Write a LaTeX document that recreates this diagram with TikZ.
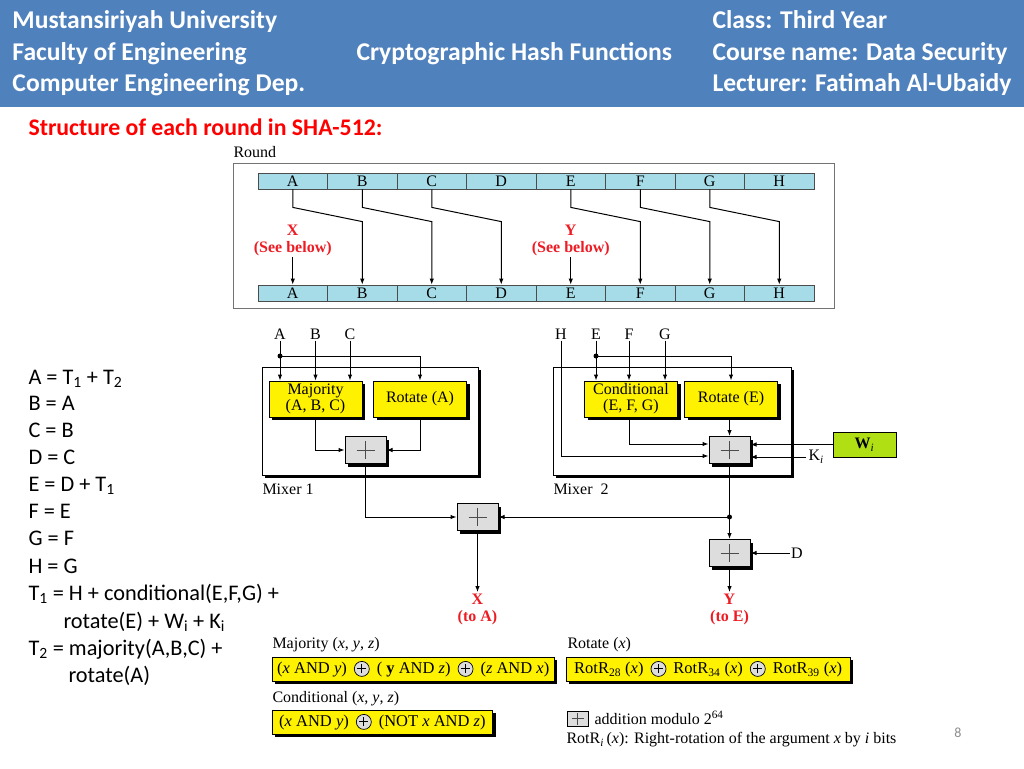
\documentclass[tikz,border=0pt]{standalone}
\usepackage{fontspec}
\setmainfont{Liberation Serif}
\newfontfamily\slidefont{Carlito}
\usepackage{tikz}
\usetikzlibrary{arrows.meta,shadows,calc}

\definecolor{headblue}{RGB}{79,129,189}
\definecolor{regblue}{RGB}{166,220,232}
\definecolor{wgreen}{RGB}{176,224,20}
\definecolor{addgray}{RGB}{221,221,221}
\definecolor{outred}{RGB}{237,28,36}
\definecolor{pagegray}{RGB}{140,140,140}

\tikzset{
  blackshadow/.style={drop shadow={shadow xshift=3pt, shadow yshift=-3pt, fill=black, opacity=1}},
  plusmark/.style={path picture={\draw[line width=0.8pt, black!70]
      (path picture bounding box.center) +(-#1,0) -- +(#1,0)
      (path picture bounding box.center) +(0,-#1) -- +(0,#1);}},
  cplusnode/.style={circle, draw, fill=addgray, line width=0.7pt, minimum size=15pt, inner sep=0pt,
    path picture={\draw[line width=1.1pt]
      (path picture bounding box.center) +(-4.5pt,0) -- +(4.5pt,0)
      (path picture bounding box.center) +(0,-4.5pt) -- +(0,4.5pt);}}
}
\newcommand{\cplus}{\hspace{3pt}\tikz[baseline={(0pt,-4.5pt)}]\node[cplusnode]{};\hspace{3pt}}

\begin{document}
\begin{tikzpicture}[x=1pt, y=-1pt, line width=1pt, >={Latex[length=6pt,width=4.5pt]},
    lbl/.style={inner sep=1pt, font=\fontsize{16}{18}\selectfont},
    redlbl/.style={inner sep=1pt, align=center, text=outred, font=\fontsize{16}{17}\selectfont\bfseries},
    reg/.style={draw=black!70, fill=regblue, line width=0.8pt, minimum width=69.5pt, minimum height=16pt,
      inner sep=0pt, font=\fontsize{16}{16}\selectfont},
    func/.style={draw, fill=yellow, minimum width=93pt, minimum height=36pt, inner sep=0pt, align=center,
      font=\fontsize{16}{16}\selectfont, blackshadow},
    adder/.style={draw, fill=addgray, minimum width=41pt, minimum height=27pt, inner sep=0pt, blackshadow, plusmark=9pt},
    mixer/.style={draw, fill=white, blackshadow},
    formula/.style={draw, fill=yellow, minimum height=24pt, inner xsep=5pt, anchor=west,
      font=\fontsize{16.5}{16.5}\selectfont, blackshadow},
    flbl/.style={inner sep=0pt, anchor=west, font=\fontsize{16}{16}\selectfont},
    slide/.style={inner sep=0pt, anchor=base west, font=\slidefont\fontsize{22.3}{26}\selectfont},
    head/.style={inner sep=0pt, anchor=base west, text=white, font=\slidefont\bfseries\fontsize{25.6}{30}\selectfont},
    dot/.style={circle, fill, inner sep=0pt, minimum size=5pt}
]
\useasboundingbox (0,0) rectangle (1024,768);

% slide header
\fill[headblue] (0,0) rectangle (1024,107);
\node[head] (uni) at (12,29) {Mustansiriyah University};
\node[head] (fac) at (12,60) {Faculty of Engineering};
\node[head] (dep) at (12,91) {Computer Engineering Dep.};
\node[head] (topic) at (356,60) {Cryptographic Hash Functions};
\node[head] (cls) at (712,29) {Class: Third Year};
\node[head] (crs) at (712,60) {Course name: Data Security};
\node[head] (lect) at (712,91) {Lecturer: Fatimah Al-Ubaidy};
\node[slide, text=red, font=\slidefont\bfseries\fontsize{23.8}{26}\selectfont] (title) at (28,135)
  {Structure of each round in SHA-512:};

% update equations
\node[slide] (eqA) at (28,384) {A = T\textsubscript{1} + T\textsubscript{2}};
\node[slide] (eqB) at (28,410.5) {B = A};
\node[slide] (eqC) at (28,437) {C = B};
\node[slide] (eqD) at (28,464.5) {D = C};
\node[slide] (eqE) at (28,491.5) {E = D + T\textsubscript{1}};
\node[slide] (eqF) at (28,518.5) {F = E};
\node[slide] (eqG) at (28,545.5) {G = F};
\node[slide] (eqH) at (28,573) {H = G};
\node[slide] (eqT1) at (28,600) {T\textsubscript{1} = H + conditional(E,F,G) +};
\node[slide] (eqT1b) at (63,628) {rotate(E) + W\textsubscript{i} + K\textsubscript{i}};
\node[slide] (eqT2) at (28,655) {T\textsubscript{2} = majority(A,B,C) +};
\node[slide] (eqT2b) at (68,682) {rotate(A)};

% round
\node[lbl, anchor=west] (roundlbl) at (232,152) {Round};
\node[draw=black!55, minimum width=601pt, minimum height=145pt, inner sep=0pt] (roundbox) at (533.5,235.5) {};
\foreach \l [count=\i] in {A,B,C,D,E,F,G,H} {
  \node[reg] (top\l) at (223.25+69.5*\i,181) {\l};
  \node[reg] (bot\l) at (223.25+69.5*\i,293) {\l};
}
\foreach \s/\t in {A/B,B/C,C/D,E/F,F/G,G/H}
  \draw[->] (top\s.south) -- ++(0,18) -- ($(bot\t.north)+(0,-63)$) -- (bot\t.north);
\node[redlbl] (seeX) at ($(topA)+(0,59)$) {X\\(See below)};
\node[redlbl] (seeY) at ($(topE)+(0,59)$) {Y\\(See below)};
\draw[->] (seeX) -- (botA.north);
\draw[->] (seeY) -- (botE.north);

% mixer 1
\node[mixer, minimum width=216pt, minimum height=108pt] (mix1) at (370,421) {};
\node[lbl, anchor=west] (mix1lbl) at (261,489) {Mixer 1};
\node[func] (maj) at (315.5,399) {Majority\\(A, B, C)};
\node[func] (rotA) at (420,399) {Rotate (A)};
\node[adder] (add1) at (365.5,450) {};
\node[lbl] (inA) at (280,334) {A};
\node[lbl] (inB) at (315.5,334) {B};
\node[lbl] (inC) at (350,334) {C};
\node[dot] (dotA) at (280,356) {};
\draw[->] (inA) -- (inA |- maj.north);
\draw[->] (inB) -- (maj.north);
\draw[->] (inC) -- (inC |- maj.north);
\draw[->] (dotA.center) -| (rotA.north);
\draw[->] (maj.south) |- (add1.west);
\draw[->] (rotA.south) |- (add1.east);

% mixer 2
\node[mixer, minimum width=238pt, minimum height=108pt] (mix2) at (672,421) {};
\node[lbl, anchor=west] (mix2lbl) at (552,489) {Mixer\ \ 2};
\node[func] (cond) at (631,399) {Conditional\\(E, F, G)};
\node[func] (rotE) at (731,399) {Rotate (E)};
\node[adder] (add2) at (729.5,450) {};
\node[lbl] (inH) at (561,334) {H};
\node[lbl] (inE) at (596,334) {E};
\node[lbl] (inF) at (629,334) {F};
\node[lbl] (inG) at (665,334) {G};
\node[dot] (dotE) at (596,356) {};
\draw[->] (inE) -- (inE |- cond.north);
\draw[->] (inF) -- (inF |- cond.north);
\draw[->] (inG) -- (inG |- cond.north);
\draw[->] (dotE.center) -| (rotE.north);
\draw[->] (cond.south -| inF) |- ($(add2.west)+(0,-6)$);
\draw[->] (add2.north |- rotE.south) -- (add2.north);
\draw[->] (inH) |- ($(add2.west)+(0,6)$);
\node[draw, fill=wgreen, minimum width=63pt, minimum height=25pt, inner sep=0pt,
  font=\fontsize{16}{16}\selectfont] (wi) at (864.5,444.5) {\textbf{W}\textsubscript{\textit{i}}};
\draw[->] (wi.west) -- (wi.west -| add2.east);
\node[lbl, anchor=west, inner sep=2pt] (ki) at (806,457) {K\textsubscript{\textit{i}}};
\draw[->] (ki.west) -- (ki.west -| add2.east);

% final adders
\node[adder] (addX) at (477.5,517) {};
\node[adder] (addY) at (729.5,553) {};
\node[dot] (dotY) at (729.5,517) {};
\draw[->] (add1.south) |- (addX.west);
\draw (add2.south) -- (dotY.center);
\draw[->] (dotY.center) -- (addX.east);
\draw[->] (dotY.center) -- (addY.north);
\node[lbl] (inD) at (797,553) {D};
\draw[->] (inD) -- (addY.east);
\node[redlbl] (outX) at (477.5,609) {X\\(to A)};
\node[redlbl] (outY) at (729.5,609) {Y\\(to E)};
\draw[->] (addX.south) -- (outX.north);
\draw[->] (addY.south) -- (outY.north);

% function definitions
\node[flbl] (majlbl) at (272,645) {Majority (\textit{x}, \textit{y}, \textit{z})};
\node[formula] (majf) at (272,669)
  {(\textit{x} AND \textit{y}) \cplus{} ( \textbf{y} AND \textit{z}) \cplus{} (\textit{z} AND \textit{x})};
\node[flbl] (rotlbl) at (567,645) {Rotate (\textit{x})};
\node[formula, inner xsep=8pt] (rotf) at (566,669)
  {RotR\textsubscript{28} (\textit{x}) \cplus{} RotR\textsubscript{34} (\textit{x}) \cplus{} RotR\textsubscript{39} (\textit{x})};
\node[flbl] (condlbl) at (272,699) {Conditional (\textit{x}, \textit{y}, \textit{z})};
\node[formula, inner xsep=7pt] (condf) at (272,722)
  {(\textit{x} AND \textit{y}) \cplus{} (NOT \textit{x} AND \textit{z})};
\node[draw, fill=addgray, minimum width=21pt, minimum height=15pt, inner sep=0pt, line width=0.8pt,
  plusmark=6pt] (legadd) at (577.5,718.5) {};
\node[flbl] (leglbl) at (594,718) {addition modulo 2\textsuperscript{64}};
\node[flbl] (rotrlbl) at (566,740)
  {RotR\textsubscript{\textit{i}}\,(\textit{x}): Right-rotation of the argument \textit{x} by \textit{i} bits};
\node[text=pagegray, font=\slidefont\fontsize{14}{14}\selectfont] (pgnum) at (958,733) {8};
\end{tikzpicture}
\end{document}
